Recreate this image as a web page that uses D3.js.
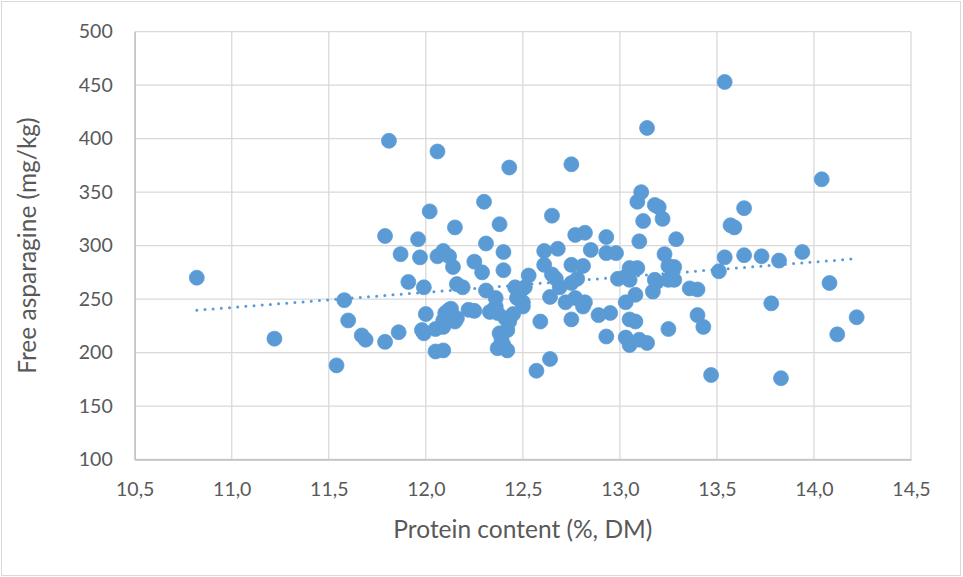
<!DOCTYPE html>
<html>
<head>
<meta charset="utf-8">
<script src="https://cdn.jsdelivr.net/npm/d3@7"></script>
<style>
  body { margin: 0; background: #fff; }
  text { font-family: Lato, "Open Sans", sans-serif; fill: #595959; }
</style>
</head>
<body>
<div id="chart"></div>
<script>
// protein content (%, DM)
const protein = [
  10.82, 11.22, 11.54, 11.58, 11.60, 11.67, 11.69, 11.79, 11.86, 11.79,
  11.87, 11.91, 11.81, 12.06, 12.43, 12.75, 13.14, 13.11, 13.09, 13.18,
  13.20, 13.12, 13.22, 12.02, 12.15, 12.30, 12.38, 12.65, 12.77, 12.82,
  12.93, 13.10, 13.29, 11.96, 12.31, 13.54, 14.04, 13.64, 13.57, 13.59,
  13.25, 13.25, 13.36, 13.40, 13.51, 13.54, 13.64, 13.73, 13.82, 13.94,
  14.08, 14.22, 14.12, 13.78, 13.83, 13.47, 13.40, 13.43, 13.25, 11.97,
  12.09, 12.06, 12.12, 12.14, 12.40, 12.25, 12.29, 12.40, 11.99, 12.16,
  12.53, 12.31, 12.36, 12.46, 12.00, 11.98, 12.05, 12.09, 12.12, 12.16,
  12.22, 12.25, 12.33, 12.37, 12.41, 12.38, 12.39, 12.37, 12.42, 12.05,
  12.09, 12.45, 12.47, 12.49, 12.50, 12.61, 12.68, 12.85, 12.93, 12.98,
  12.61, 12.65, 12.67, 12.75, 12.81, 12.78, 12.75, 13.05, 13.09, 13.03,
  12.99, 13.05, 13.18, 12.51, 12.64, 12.72, 12.77, 12.82, 12.81, 12.59,
  12.75, 12.89, 12.95, 12.93, 13.03, 13.08, 13.17, 13.05, 13.08, 13.03,
  13.05, 13.10, 13.14, 12.64, 12.57, 13.23, 13.28, 13.19, 13.26, 13.28,
  12.19, 12.36, 12.50, 12.43, 12.42, 12.40, 11.99, 12.69, 12.09, 12.13,
  12.15, 12.10
];
// free asparagine (mg/kg)
const asparagine = [
  270, 213, 188, 249, 230, 216, 212, 210, 219, 309,
  292, 266, 398, 388, 373, 376, 410, 350, 341, 338,
  336, 323, 325, 332, 317, 341, 320, 328, 310, 312,
  308, 304, 306, 306, 302, 453, 362, 335, 319, 317,
  281, 268, 260, 259, 276, 289, 291, 290, 286, 294,
  265, 233, 217, 246, 176, 179, 235, 224, 222, 289,
  295, 290, 290, 280, 294, 285, 275, 277, 261, 264,
  272, 258, 251, 261, 236, 221, 222, 230, 240, 232,
  240, 239, 238, 237, 232, 218, 212, 204, 202, 201,
  202, 236, 251, 258, 247, 295, 297, 296, 293, 293,
  282, 273, 269, 282, 281, 269, 265, 279, 279, 271,
  269, 268, 268, 261, 252, 247, 251, 247, 243, 229,
  231, 235, 237, 215, 247, 254, 257, 231, 229, 214,
  207, 212, 209, 194, 183, 292, 280, 266, 269, 268,
  261, 243, 243, 229, 221, 207, 218, 261, 224, 241,
  229, 237
];
const xTicks = [10.5, 11, 11.5, 12, 12.5, 13, 13.5, 14, 14.5];
const yTicks = [100, 150, 200, 250, 300, 350, 400, 450, 500];

const W = 963, H = 577;
const pLeft = 134.7, pRight = 911, pTop = 31.7, pBottom = 459.5;
const blue = "#5b9bd5";

const data = protein.map((p, i) => ({ x: p, y: asparagine[i] }));

const svg = d3.select("#chart").append("svg").attr("width", W).attr("height", H);

// chart frame
svg.append("rect").attr("x", 1.5).attr("y", 1.5).attr("width", W - 4).attr("height", H - 3)
  .attr("fill", "#fff").attr("stroke", "#d9d9d9");

const x = d3.scaleLinear().domain([10.5, 14.5]).range([pLeft, pRight]);
const y = d3.scaleLinear().domain([100, 500]).range([pBottom, pTop]);
const fmt = d => d3.format(".1f")(d).replace(".", ",");

// gridlines
svg.append("g").selectAll("line").data(xTicks).join("line")
  .attr("x1", d => x(d)).attr("x2", d => x(d)).attr("y1", pTop).attr("y2", pBottom)
  .attr("stroke", "#d9d9d9").attr("stroke-width", 1.3);
svg.append("g").selectAll("line").data(yTicks).join("line")
  .attr("x1", pLeft).attr("x2", pRight).attr("y1", d => y(d)).attr("y2", d => y(d))
  .attr("stroke", "#d9d9d9").attr("stroke-width", 1.3);

// axes
const xAxis = svg.append("g").attr("transform", `translate(0,${pBottom})`)
  .call(d3.axisBottom(x).tickValues(xTicks).tickFormat(fmt).tickSize(0).tickPadding(23));
const yAxis = svg.append("g").attr("transform", `translate(${pLeft},0)`)
  .call(d3.axisLeft(y).tickValues(yTicks).tickSize(0).tickPadding(22));
[xAxis, yAxis].forEach(g => {
  g.select(".domain").attr("stroke", "#bfbfbf").attr("stroke-width", 1.3);
  g.selectAll("text").attr("font-family", "Lato, sans-serif").attr("font-size", 19.5).attr("fill", "#595959");
});

// points
svg.append("g").selectAll("circle").data(data).join("circle")
  .attr("cx", d => x(d.x)).attr("cy", d => y(d.y)).attr("r", 7.5)
  .attr("fill", blue).attr("stroke", blue).attr("stroke-width", 0.75);

// linear trendline (least squares)
const mx = d3.mean(data, d => d.x), my = d3.mean(data, d => d.y);
const slope = d3.sum(data, d => (d.x - mx) * (d.y - my)) / d3.sum(data, d => (d.x - mx) ** 2);
const icpt = my - slope * mx;
const ext = d3.extent(data, d => d.x);
svg.append("line")
  .attr("x1", x(ext[0])).attr("y1", y(icpt + slope * ext[0]))
  .attr("x2", x(ext[1])).attr("y2", y(icpt + slope * ext[1]))
  .attr("stroke", blue).attr("stroke-width", 3)
  .attr("stroke-linecap", "round").attr("stroke-dasharray", "0 8.2");

// axis titles
svg.append("text").attr("x", (pLeft + pRight) / 2).attr("y", 538)
  .attr("text-anchor", "middle").attr("font-size", 24.5).text("Protein content (%, DM)");
svg.append("text").attr("transform", `translate(36,${(pTop + pBottom) / 2}) rotate(-90)`)
  .attr("text-anchor", "middle").attr("font-size", 24.5).text("Free asparagine (mg/kg)");
</script>
</body>
</html>
